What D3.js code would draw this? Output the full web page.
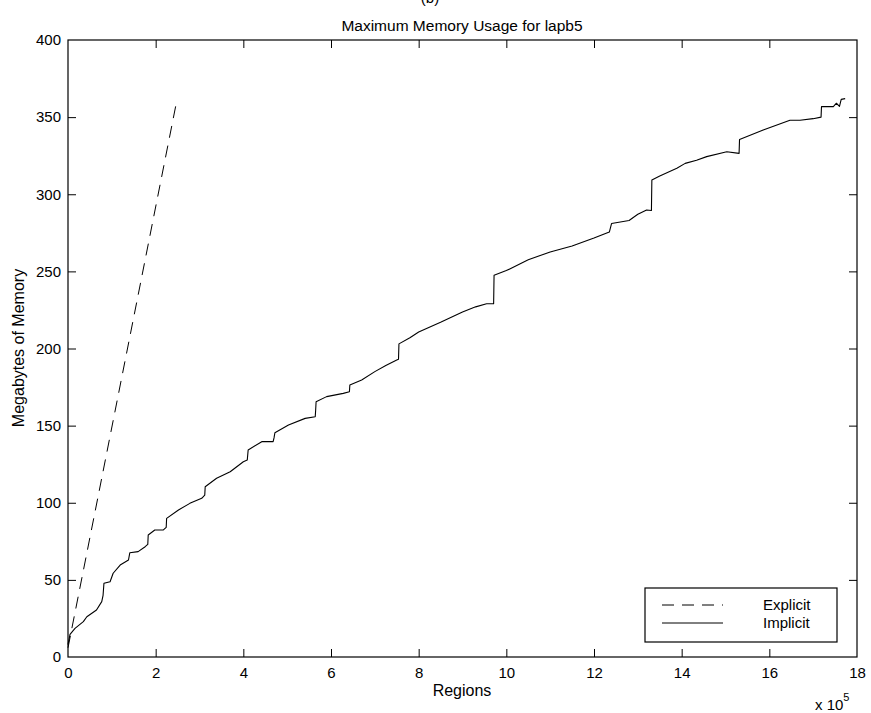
<!DOCTYPE html>
<html>
<head>
<meta charset="utf-8">
<script src="https://cdn.jsdelivr.net/npm/d3@7"></script>
<style>
  html, body { margin: 0; padding: 0; background: #fff; }
  svg { display: block; }
  text { font-family: "Liberation Sans", Arial, Helvetica, sans-serif; fill: #000; }
</style>
</head>
<body>
<svg id="chart" width="871" height="713"></svg>
<script>
// ---- data (x in units of 1e5 regions, y in MB) ----
const xTicks = [0, 2, 4, 6, 8, 10, 12, 14, 16, 18];
const yTicks = [0, 50, 100, 150, 200, 250, 300, 350, 400];

const explicitX = [0, 2.47];
const explicitY = [6, 359];

const implicitX = [0, 0.046, 0.16, 0.35, 0.43, 0.65, 0.77, 0.80, 0.82, 0.96, 1.03, 1.19, 1.38, 1.40, 1.41, 1.60, 1.76, 1.82, 1.83, 1.98, 2.17, 2.24, 2.25, 2.52, 2.78, 3.05, 3.12, 3.13, 3.39, 3.70, 4.0, 4.09, 4.11, 4.42, 4.68, 4.70, 4.72, 5.03, 5.41, 5.64, 5.65, 5.66, 5.90, 6.28, 6.42, 6.43, 6.70, 7.0, 7.25, 7.5, 7.54, 7.55, 7.8, 8.0, 8.5, 9.0, 9.3, 9.55, 9.71, 9.72, 10.0, 10.5, 11.0, 11.5, 12.0, 12.35, 12.40, 12.8, 13.0, 13.2, 13.31, 13.32, 13.5, 13.89, 14.08, 14.34, 14.57, 15.03, 15.31, 15.32, 15.86, 16.47, 16.7, 17.0, 17.18, 17.19, 17.46, 17.53, 17.6, 17.64, 17.73];
const implicitY = [8, 14.7, 18.6, 22.9, 26.1, 30.5, 35.9, 40, 47.8, 48.8, 54.3, 59.6, 62.9, 66, 67.6, 68.3, 71.5, 73, 79.1, 82.3, 82.3, 84, 89.9, 95.3, 99.6, 102.9, 105, 110.4, 115.9, 120.1, 126.6, 127.7, 134.2, 139.6, 139.6, 142, 145.4, 150.4, 154.7, 155.8, 160, 165.5, 168.8, 170.9, 172, 176.3, 179.6, 185, 189, 192.5, 193, 203, 207, 210.7, 217, 223.7, 227, 229, 229, 247.5, 250.5, 257.5, 262.6, 266.5, 271.6, 275.5, 281, 283, 287, 289.8, 289.5, 309.2, 311.8, 316.8, 320, 322, 324.4, 327.6, 326.5, 335.5, 341.6, 348, 348, 349, 350, 356.8, 356.8, 359, 357, 361.5, 362];

// ---- layout ----
const svg = d3.select("#chart");
const L = 68, R = 857, T = 40, B = 657;
const x = d3.scaleLinear().domain([0, 18]).range([L, R]);
const y = d3.scaleLinear().domain([0, 400]).range([B, T]);
const tickLen = 8;

// title (partially clipped top label)
svg.append("text").attr("x", 430).attr("y", 3).attr("text-anchor", "middle")
  .style("font-size", "15px").text("(b)");
svg.append("text").attr("x", 462).attr("y", 31).attr("text-anchor", "middle")
  .style("font-size", "15.5px").text("Maximum Memory Usage for lapb5");

// axes (inward ticks on all four sides)
const axB = svg.append("g").attr("transform", `translate(0,${B})`)
  .call(d3.axisBottom(x).tickValues(xTicks).tickFormat(d3.format("d")).tickSizeInner(-tickLen).tickSizeOuter(0).tickPadding(10));
const axT = svg.append("g").attr("transform", `translate(0,${T})`)
  .call(d3.axisTop(x).tickValues(xTicks).tickFormat("").tickSizeInner(-tickLen).tickSizeOuter(0));
const axL = svg.append("g").attr("transform", `translate(${L},0)`)
  .call(d3.axisLeft(y).tickValues(yTicks).tickFormat(d3.format("d")).tickSizeInner(-tickLen).tickSizeOuter(0).tickPadding(7));
const axR = svg.append("g").attr("transform", `translate(${R},0)`)
  .call(d3.axisRight(y).tickValues(yTicks).tickFormat("").tickSizeInner(-tickLen).tickSizeOuter(0));
[axB, axT, axL, axR].forEach(g => {
  g.selectAll(".domain").remove();
  g.selectAll("line").attr("stroke", "#000").attr("stroke-width", 1);
  g.selectAll("text").style("font-size", "15px").style("font-family", "Liberation Sans, Arial, sans-serif").attr("fill", "#000");
});
// remove ticks at the ends which coincide with the box
axB.selectAll(".tick").filter(d => d === 0 || d === 18).select("line").remove();
axT.selectAll(".tick").filter(d => d === 0 || d === 18).select("line").remove();
axL.selectAll(".tick").filter(d => d === 0 || d === 400).select("line").remove();
axR.selectAll(".tick").filter(d => d === 0 || d === 400).select("line").remove();

svg.append("rect").attr("x", L).attr("y", T).attr("width", R - L).attr("height", B - T)
  .attr("fill", "none").attr("stroke", "#000").attr("stroke-width", 1.2);

// lines
const line = d3.line().x(d => x(d[0])).y(d => y(d[1]));
const explicitData = explicitX.map((v, i) => [v, explicitY[i]]);
const implicitData = implicitX.map((v, i) => [v, implicitY[i]]);

svg.append("path").datum(explicitData).attr("d", line)
  .attr("fill", "none").attr("stroke", "#000").attr("stroke-width", 1)
  .attr("stroke-dasharray", "12,8");
svg.append("path").datum(implicitData).attr("d", line)
  .attr("fill", "none").attr("stroke", "#000").attr("stroke-width", 1.1)
  .attr("stroke-linejoin", "round");

// axis labels
svg.append("text").attr("x", 462).attr("y", 696).attr("text-anchor", "middle")
  .style("font-size", "16px").text("Regions");
svg.append("text").attr("transform", "translate(24,348) rotate(-90)").attr("text-anchor", "middle")
  .style("font-size", "16px").text("Megabytes of Memory");
const mult = svg.append("text").attr("x", 815).attr("y", 710).style("font-size", "15px");
mult.append("tspan").text("x 10");
mult.append("tspan").attr("dy", -9).style("font-size", "11px").text("5");

// legend
const lg = svg.append("g");
lg.append("rect").attr("x", 645).attr("y", 588).attr("width", 192).attr("height", 54)
  .attr("fill", "#fff").attr("stroke", "#000").attr("stroke-width", 1.2);
const legendItems = [["Explicit", "12,8", 605], ["Implicit", null, 623]];
legendItems.forEach(([name, dash, ly]) => {
  lg.append("line").attr("x1", 662).attr("x2", 723).attr("y1", ly).attr("y2", ly)
    .attr("stroke", "#000").attr("stroke-width", 1).attr("stroke-dasharray", dash);
  lg.append("text").attr("x", 763).attr("y", ly + 5).style("font-size", "15px").text(name);
});
</script>
</body>
</html>
